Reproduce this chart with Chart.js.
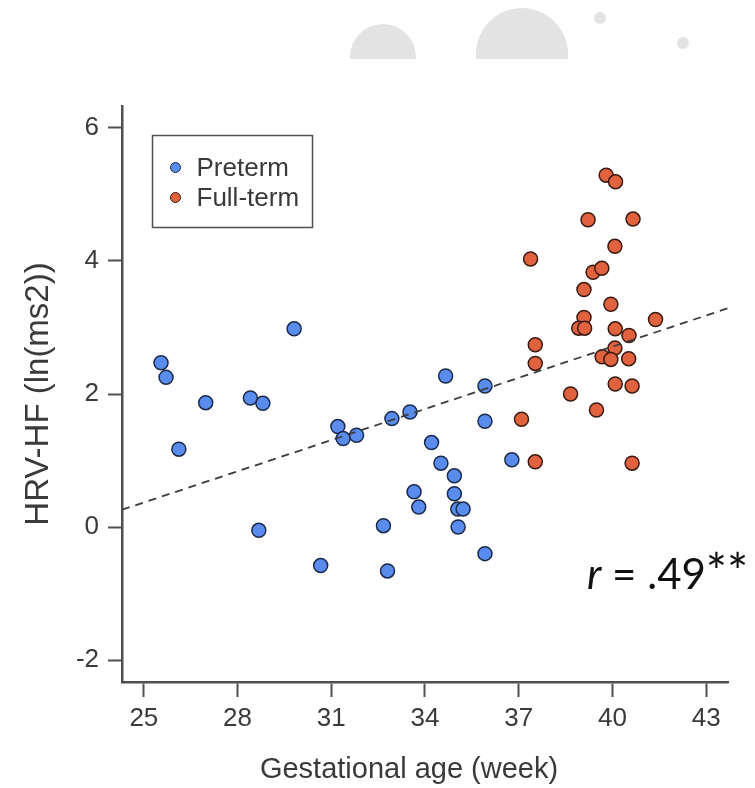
<!DOCTYPE html>
<html>
<head>
<meta charset="utf-8">
<title>HRV-HF vs gestational age</title>
<script src="https://cdn.jsdelivr.net/npm/chart.js@4/dist/chart.umd.min.js"></script>
<style>
  html, body { margin: 0; padding: 0; background: #fff; }
  #wrap { position: relative; width: 755px; height: 788px; overflow: hidden; }
  #wrap canvas { position: absolute; left: 0; top: 0; }
  .deco { position: absolute; background: #e3e3e3; }
</style>
</head>
<body>
<div id="wrap">
  <!-- light grey header ornaments -->
  <div class="deco" style="left:350px;top:24px;width:66px;height:35px;border-radius:33px 33px 0 0"></div>
  <div class="deco" style="left:476px;top:8px;width:92px;height:51px;border-radius:46px 46px 0 0"></div>
  <div class="deco" style="left:594px;top:12px;width:12px;height:12px;border-radius:50%"></div>
  <div class="deco" style="left:677px;top:37px;width:12px;height:12px;border-radius:50%"></div>
  <canvas id="chart" width="755" height="788"></canvas>
</div>
<script>
// Gestational age (weeks) and HRV-HF (ln ms²) per infant
const pretermX = [25.55, 25.71, 26.12, 26.98, 28.41, 28.81, 29.81, 28.68, 30.66, 31.21,
                  31.38, 31.81, 32.94, 33.52, 32.67, 32.80, 34.21, 34.51, 33.65, 33.80,
                  34.66, 34.94, 34.94, 35.05, 35.22, 35.06, 35.92, 35.92, 35.92, 36.78];
const pretermY = [2.47, 2.25, 1.17, 1.87, 1.94, 1.86, 2.98, -0.05, -0.58, 1.51,
                  1.33, 1.38, 1.63, 1.73, 0.02, -0.66, 1.27, 0.96, 0.53, 0.30,
                  2.27, 0.77, 0.50, 0.27, 0.27, 0.00, 2.12, 1.59, -0.40, 1.01];

const fulltermX = [39.80, 40.10, 39.22, 40.66, 37.38, 40.08, 39.38, 39.66, 39.09, 39.95,
                   39.09, 38.92, 39.11, 41.38, 40.09, 40.53, 37.53, 40.08, 39.67, 39.95,
                   40.52, 37.53, 40.09, 40.63, 38.66, 39.49, 37.09, 37.53, 40.63];
const fulltermY = [5.29, 5.19, 4.62, 4.63, 4.03, 4.22, 3.83, 3.89, 3.57, 3.35,
                   3.15, 2.99, 2.99, 3.12, 2.98, 2.88, 2.74, 2.69, 2.56, 2.52,
                   2.53, 2.46, 2.15, 2.12, 2.00, 1.76, 1.62, 0.98, 0.96];

// Fitted regression line, end to end across the axis range
const trendX = [24.3, 43.7];
const trendY = [0.26, 3.29];

const xTicks = [25, 28, 31, 34, 37, 40, 43];
const yTicks = [-2, 0, 2, 4, 6];
const seriesNames = ['Preterm', 'Full-term'];
const xTitle = 'Gestational age (week)';
const yTitle = 'HRV-HF (ln(ms2))';
const corrValue = '.49';
const corrStars = '**';

const toPoints = (xs, ys) => xs.map((x, i) => ({ x: x, y: ys[i] }));

const AXIS = '#505050';
const INK = '#3a3a3a';
const FONT = '"Liberation Sans", Arial, Helvetica, sans-serif';

// Framed legend, x-axis caption and the correlation note
const annotations = {
  id: 'annotations',
  afterDraw(chart) {
    const ctx = chart.ctx;
    const area = chart.chartArea;
    ctx.save();

    const bx = area.left + 30.5, by = area.top + 29.5;
    ctx.strokeStyle = AXIS;
    ctx.lineWidth = 1.5;
    ctx.strokeRect(bx, by, 160, 92);

    const items = chart.data.datasets.filter(d => d.inLegend);
    ctx.font = '26px ' + FONT;
    ctx.textBaseline = 'middle';
    ctx.textAlign = 'left';
    items.forEach((d, i) => {
      const y = by + 32 + i * 30;
      ctx.beginPath();
      ctx.arc(bx + 23, y, 5, 0, Math.PI * 2);
      ctx.fillStyle = d.backgroundColor;
      ctx.fill();
      ctx.lineWidth = 1;
      ctx.strokeStyle = d.borderColor;
      ctx.stroke();
      ctx.fillStyle = INK;
      ctx.fillText(d.label, bx + 44, y + 1);
    });

    // x-axis caption, set slightly left of the plot centre
    ctx.font = '29px ' + FONT;
    ctx.textAlign = 'center';
    ctx.fillStyle = INK;
    ctx.fillText(xTitle, (area.left + area.right) / 2 - 16, 770);

    // r = .49**
    ctx.fillStyle = '#111';
    ctx.textAlign = 'left';
    ctx.textBaseline = 'alphabetic';
    const rx = 587, ry = 589;
    let cx = rx;
    ctx.font = 'italic 42px Lato, sans-serif';
    ctx.fillText('r', cx, ry);
    cx += ctx.measureText('r').width;
    ctx.font = '42px Lato, sans-serif';
    const mid = ' = ' + corrValue;
    ctx.fillText(mid, cx, ry);
    cx += ctx.measureText(mid).width;
    ctx.font = '50px Lato, sans-serif';
    ctx.fillText(corrStars, cx, ry + 1);

    ctx.restore();
  }
};

new Chart(document.getElementById('chart'), {
  type: 'scatter',
  data: {
    datasets: [
      {
        label: 'trend',
        data: toPoints(trendX, trendY),
        showLine: true,
        borderColor: '#3c3c3c',
        borderWidth: 1.8,
        borderDash: [8, 6],
        pointRadius: 0,
        fill: false,
        order: 0
      },
      {
        label: seriesNames[0],
        inLegend: true,
        data: toPoints(pretermX, pretermY),
        backgroundColor: '#5a8cee',
        borderColor: '#1b2a4a',
        borderWidth: 1.5,
        pointRadius: 7,
        order: 1
      },
      {
        label: seriesNames[1],
        inLegend: true,
        data: toPoints(fulltermX, fulltermY),
        backgroundColor: '#e0623f',
        borderColor: '#3a1a10',
        borderWidth: 1.5,
        pointRadius: 7,
        order: 1
      }
    ]
  },
  options: {
    responsive: false,
    animation: false,
    events: [],
    layout: { padding: { top: 106, right: 27, left: 0, bottom: 0 } },
    plugins: {
      legend: { display: false },
      tooltip: { enabled: false }
    },
    scales: {
      x: {
        type: 'linear',
        min: 24.3,
        max: 43.7,
        afterBuildTicks: s => { s.ticks = xTicks.map(v => ({ value: v })); },
        afterFit: s => { s.height = 106; },
        grid: { drawOnChartArea: false, drawTicks: true, tickLength: 15, tickWidth: 2, tickColor: AXIS },
        border: { display: true, color: AXIS, width: 2.5 },
        ticks: { color: INK, font: { size: 26, family: FONT }, padding: 6, maxRotation: 0, autoSkip: false },
        title: { display: false }
      },
      y: {
        type: 'linear',
        min: -2.33,
        max: 6.33,
        afterBuildTicks: s => { s.ticks = yTicks.map(v => ({ value: v })); },
        afterFit: s => { s.width = 122; },
        grid: { drawOnChartArea: false, drawTicks: true, tickLength: 14, tickWidth: 2, tickColor: AXIS },
        border: { display: true, color: AXIS, width: 2.5 },
        ticks: { color: INK, font: { size: 26, family: FONT }, padding: 9, autoSkip: false },
        title: {
          display: true, text: yTitle, color: INK,
          font: { size: 33, family: FONT, lineHeight: 1.2 }, padding: { top: 19, bottom: 0 }
        }
      }
    }
  },
  plugins: [annotations]
});
</script>
</body>
</html>
